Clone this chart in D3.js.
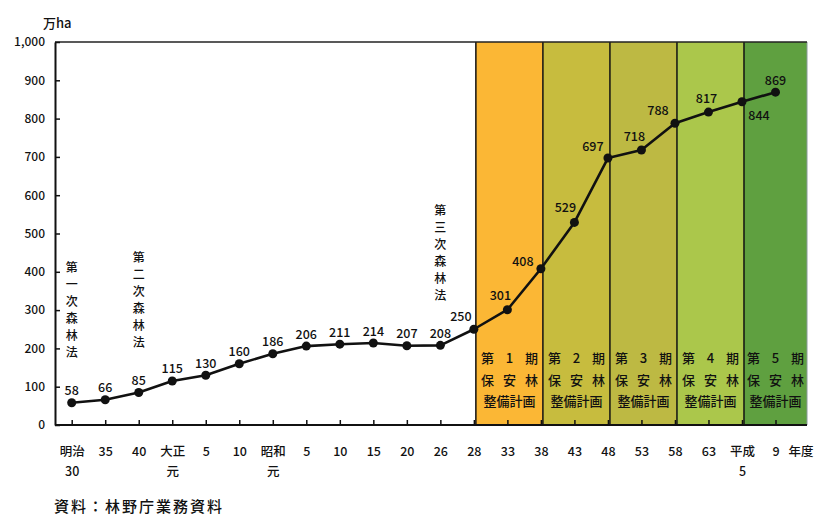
<!DOCTYPE html>
<html>
<head>
<meta charset="utf-8">
<script src="https://cdn.jsdelivr.net/npm/d3@7"></script>
<style>
  html, body { margin: 0; padding: 0; background: #fff; }
  svg { display: block; }
  text { font-family: "Noto Sans CJK JP", "Noto Sans", sans-serif; fill: #111; font-weight: 500; }
</style>
</head>
<body>
<svg id="chart" width="815" height="514"></svg>
<script>
// 保安林面積の推移（万ha）
const yearIds = ["M30","M35","M40","T1","T5","T10","S1","S5","S10","S15","S20","S26",
                 "S28","S33","S38","S43","S48","S53","S58","S63","H5","H9"];
const tickLabels = [["明治","30"],["35"],["40"],["大正","元"],["5"],["10"],["昭和","元"],["5"],
                    ["10"],["15"],["20"],["26"],["28"],["33"],["38"],["43"],["48"],["53"],
                    ["58"],["63"],["平成","5"],["9"]];
const areas = [58,66,85,115,130,160,186,206,211,214,207,208,250,301,408,529,697,718,788,817,844,869];

const yTicks = [0,100,200,300,400,500,600,700,800,900,1000];

// 保安林整備計画の各期
const planNumbers = ["1","2","3","4","5"];
const planStarts  = ["S28","S38","S48","S58","H5"];
const planEnds    = ["S38","S48","S58","H5",null];
const planColors  = ["#fbb735","#c7bc3e","#bdb943","#abc74b","#5fa040"];

// 森林法の制定
const lawNames = ["第一次森林法","第二次森林法","第三次森林法"];
const lawYears = ["M30","M40","S26"];

// 数値ラベルの位置調整（点からのずれ）
const labelShift = {12:[-13,-14],13:[-7,-15],14:[-18,-8],15:[-9,-16],16:[-15,-13],
                    17:[-7,-15],18:[-17,-14],19:[-2,-15],20:[17,13]};

const svg = d3.select("#chart");
const plotLeft = 55, plotRight = 807, plotTop = 42, plotBottom = 425;

const x = d3.scalePoint().domain(yearIds).range([71.7, 775.5]);
const y = d3.scaleLinear().domain([0, 1000]).range([plotBottom, plotTop]);

// 計画期間の帯
const bands = svg.append("g");
planNumbers.forEach((n, i) => {
  const x0 = x(planStarts[i]) + 2;
  const x1 = planEnds[i] ? x(planEnds[i]) + 2 : plotRight;
  bands.append("rect").attr("x", x0).attr("y", plotTop).attr("width", x1 - x0)
    .attr("height", plotBottom - plotTop).attr("fill", planColors[i]);
  const cx = (x0 + x1) / 2;
  const row1 = ["第", n, "期"], row2 = ["保", "安", "林"];
  [-22, 0, 22].forEach((dx, j) => {
    bands.append("text").attr("x", cx + dx).attr("y", 357).attr("text-anchor", "middle")
      .attr("dominant-baseline", "central").attr("font-size", 13).text(row1[j]);
    bands.append("text").attr("x", cx + dx).attr("y", 379).attr("text-anchor", "middle")
      .attr("dominant-baseline", "central").attr("font-size", 13).text(row2[j]);
  });
  bands.append("text").attr("x", cx).attr("y", 400).attr("text-anchor", "middle")
    .attr("dominant-baseline", "central").attr("font-size", 13).text("整備計画");
});
// 帯の区切り線
planStarts.forEach(s => {
  svg.append("line").attr("x1", x(s) + 2).attr("x2", x(s) + 2)
    .attr("y1", plotTop).attr("y2", plotBottom).attr("stroke", "#111").attr("stroke-width", 1.5);
});
svg.append("line").attr("x1", plotRight).attr("x2", plotRight).attr("y1", plotTop).attr("y2", plotBottom)
  .attr("stroke", "#8a9a9a").attr("stroke-width", 1);

// 枠（上辺）
svg.append("line").attr("x1", plotLeft).attr("x2", plotRight).attr("y1", plotTop).attr("y2", plotTop)
  .attr("stroke", "#222").attr("stroke-width", 1.5);

// Y軸
const yAxis = d3.axisLeft(y).tickValues(yTicks).tickSize(0).tickPadding(10)
  .tickFormat(d3.format(","));
const gy = svg.append("g").attr("transform", `translate(${plotLeft},0)`).call(yAxis);
gy.select(".domain").attr("stroke", "#111").attr("stroke-width", 2);
gy.selectAll("text").attr("font-size", 12).attr("fill", "#111")
  .style("font-family", "'Noto Sans CJK JP', sans-serif").style("font-weight", 500);
gy.selectAll(".tick").append("line").attr("x1", 0).attr("x2", 5)
  .attr("stroke", "#111").attr("stroke-width", 1.5);

// X軸
const xAxis = d3.axisBottom(x).tickSize(0).tickFormat(() => "");
const gx = svg.append("g").attr("transform", `translate(0,${plotBottom})`).call(xAxis);
gx.select(".domain").attr("d", `M${plotLeft},0H${plotRight}`).attr("stroke", "#111").attr("stroke-width", 2);
gx.selectAll(".tick").append("line").attr("y1", 0).attr("y2", -5)
  .attr("stroke", "#111").attr("stroke-width", 1.5);
gx.selectAll(".tick").each(function(d, i) {
  const t = d3.select(this).append("text").attr("text-anchor", "middle").attr("font-size", 12.5)
    .attr("fill", "#111");
  tickLabels[i].forEach((line, k) => {
    t.append("tspan").attr("x", 0).attr("y", 31 + k * 20).text(line);
  });
});
svg.append("text").attr("x", x("H9") + 13).attr("y", plotBottom + 31).attr("font-size", 12.5).text("年度");

// 折れ線
const line = d3.line().x((d, i) => x(yearIds[i])).y(d => y(d));
svg.append("path").datum(areas).attr("d", line).attr("fill", "none")
  .attr("stroke", "#111").attr("stroke-width", 2.6).attr("stroke-linejoin", "round");
svg.append("g").selectAll("circle").data(areas).join("circle")
  .attr("cx", (d, i) => x(yearIds[i])).attr("cy", d => y(d)).attr("r", 4.5).attr("fill", "#111");

// 数値ラベル
svg.append("g").selectAll("text").data(areas).join("text")
  .attr("x", (d, i) => x(yearIds[i]) + (labelShift[i] ? labelShift[i][0] : 0))
  .attr("y", (d, i) => y(d) + (labelShift[i] ? labelShift[i][1] : -13))
  .attr("text-anchor", "middle").attr("dominant-baseline", "central")
  .attr("font-size", 12.5).text(d => d);

// 森林法（縦書き）
lawNames.forEach((name, i) => {
  const cx = x(lawYears[i]);
  const v = areas[yearIds.indexOf(lawYears[i])];
  const chars = Array.from(name);
  const yEnd = y(v) - 51;
  chars.forEach((c, k) => {
    svg.append("text").attr("x", cx).attr("y", yEnd - (chars.length - 1 - k) * 17)
      .attr("text-anchor", "middle").attr("dominant-baseline", "central")
      .attr("font-size", 12).text(c);
  });
});

// 単位・出典
svg.append("text").attr("x", 43).attr("y", 22).attr("dominant-baseline", "central")
  .attr("font-size", 13).text("万ha");
svg.append("text").attr("x", 54).attr("y", 505).attr("dominant-baseline", "central")
  .attr("font-size", 15).attr("letter-spacing", 2).text("資料：林野庁業務資料");
</script>
</body>
</html>
